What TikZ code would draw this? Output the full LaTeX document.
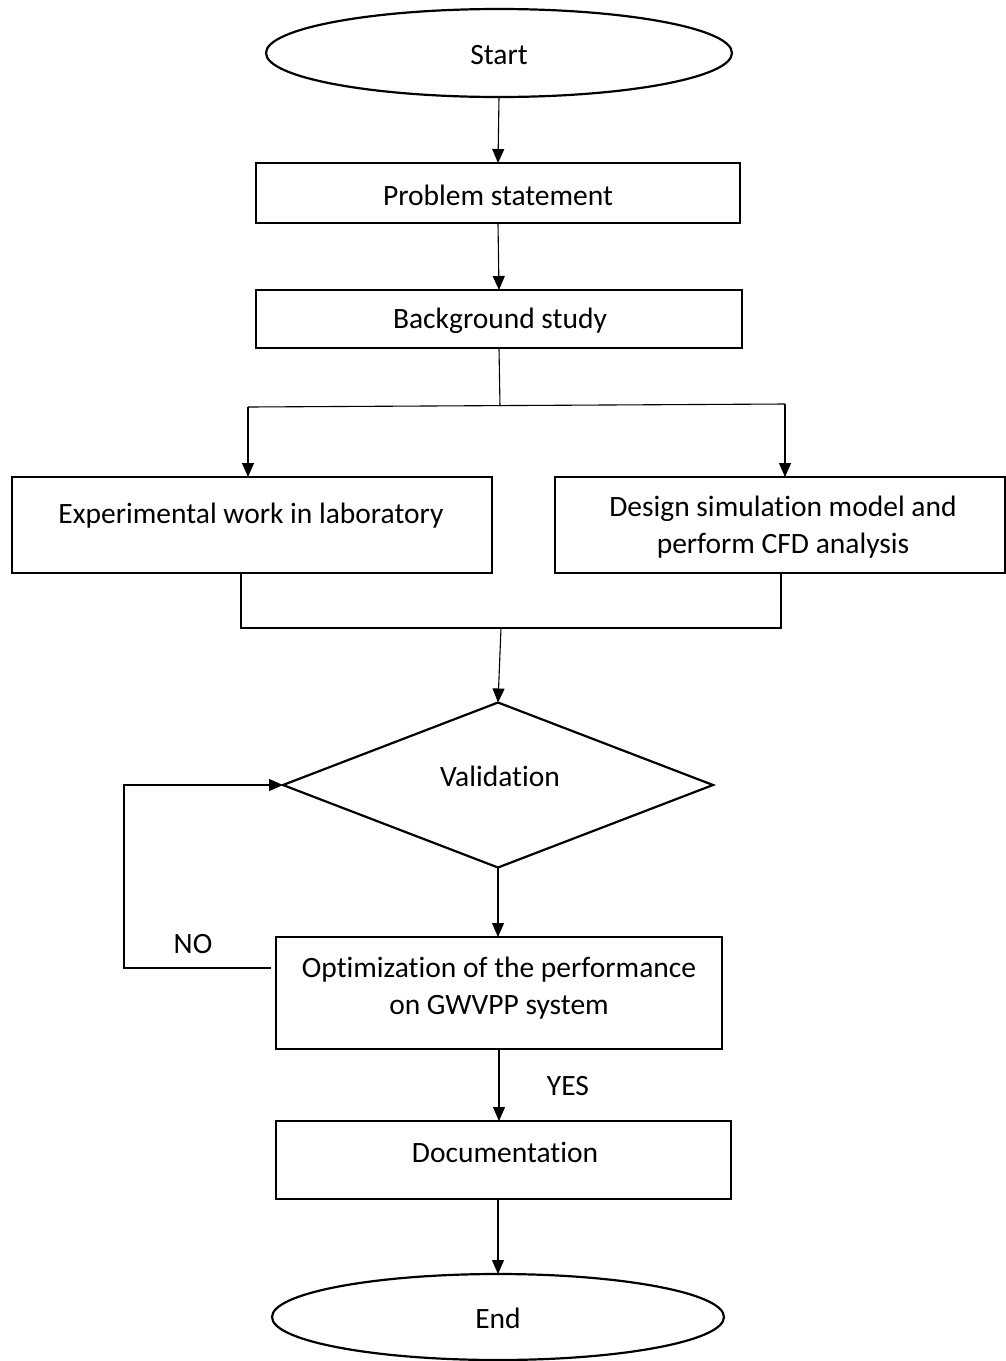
\documentclass[tikz,border=0pt]{standalone}
\usepackage{fontspec}
\setmainfont[Ligatures=CommonOff]{Carlito}
\usetikzlibrary{shapes.geometric,arrows.meta}
\begin{document}
\begin{tikzpicture}[x=1pt,y=-1pt,
  shp/.style={draw,line width=2.2pt,inner sep=0pt,outer sep=0pt},
  boxshape/.style={shp,rectangle},
  oval/.style={shp,ellipse},
  decision/.style={shp,diamond},
  txt/.style={inner sep=0pt,align=center,font=\fontsize{29.5}{37}\selectfont},
  conn/.style={line width=1.1pt},
  arr/.style={conn,-{Triangle[length=14pt,width=12pt]}}]
\useasboundingbox (0,0) rectangle (1006,1361);
% shapes
\node[oval,minimum width=466pt,minimum height=88pt] (start) at (499,53) {};
\node[txt] (starttxt) at (499,55) {Start};
\node[boxshape,minimum width=484pt,minimum height=60pt] (ps) at (498,193) {};
\node[txt] (pstxt) at (498,195) {Problem statement};
\node[boxshape,minimum width=486pt,minimum height=58pt] (bg) at (499,319) {};
\node[txt] (bgtxt) at (500,321) {Background study};
\node[boxshape,minimum width=480pt,minimum height=96pt] (exp) at (252,525) {};
\node[txt] (exptxt) at (251,516) {Experimental work in laboratory};
\node[boxshape,minimum width=450pt,minimum height=96pt] (cfd) at (780,525) {};
\node[txt] (cfdtxt) at (783,527) {Design simulation model and\\perform CFD analysis};
\node[decision,minimum width=430pt,minimum height=165pt] (dia) at (498,785) {};
\node[txt] (diatxt) at (500,776) {Validation};
\node[boxshape,minimum width=446pt,minimum height=112pt] (opt) at (499,993) {};
\node[txt] (opttxt) at (499,988) {Optimization of the performance\\on GWVPP system};
\node[boxshape,minimum width=455pt,minimum height=78pt] (doc) at (503.5,1160) {};
\node[txt] (doctxt) at (505,1152) {Documentation};
\node[oval,minimum width=452pt,minimum height=86pt] (end) at (498,1317) {};
\node[txt] (endtxt) at (498,1318) {End};
\node[txt] (no) at (193,944) {NO};
\node[txt] (yes) at (568,1086) {YES};
% coordinates
\coordinate (split) at (500,406);
\coordinate (sl) at (248,407);
\coordinate (sr) at (785,404);
\coordinate (ml) at (241,628);
\coordinate (mr) at (781,628);
\coordinate (mid) at (501,628);
\coordinate (nofrom) at (271,968);
\coordinate (nocorner) at (124,968);
% connectors
\draw[arr] (start.south) -- (ps.north);
\draw[arr] (ps.south) -- (bg.north);
\draw[conn] (bg.south) -- (split);
\draw[conn] (sl) -- (sr);
\draw[arr] (sl) -- (sl |- exp.north);
\draw[arr] (sr) -- (sr |- cfd.north);
\draw[conn] (ml |- exp.south) -- (ml) -- (mr) -- (mr |- cfd.south);
\draw[arr] (mid) -- (dia.north);
\draw[arr] (dia.south) -- (dia.south |- opt.north);
\draw[arr] (nofrom) -- (nocorner) |- (dia.west);
\draw[arr] (opt.south) -- (opt.south |- doc.north);
\draw[arr] (doc.south) -- (doc.south -| end.north) -- (end.north);
\end{tikzpicture}
\end{document}
